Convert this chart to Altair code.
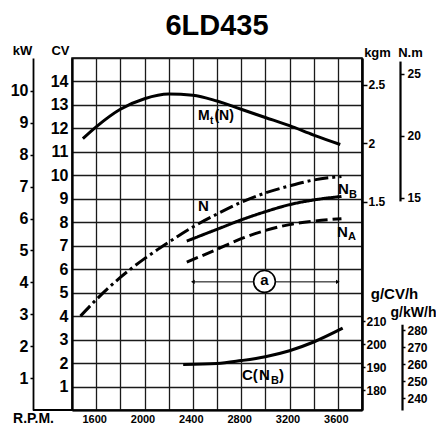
import altair as alt
import pandas as pd

# ---------------- data ----------------
# power curves (CV) vs engine speed (rpm)
rpm_n = [1470, 1600, 1800, 2000, 2200, 2400, 2600, 2800, 3000, 3200, 3400, 3630]
cv_n = [4.0, 4.7, 5.65, 6.45, 7.15, 7.8, 8.35, 8.85, 9.25, 9.55, 9.8, 9.95]
rpm_nb = [2350, 2600, 2800, 3000, 3200, 3400, 3630]
cv_nb = [7.2, 7.7, 8.1, 8.45, 8.75, 8.95, 9.1]
rpm_na = [2350, 2600, 2800, 3000, 3200, 3400, 3630]
cv_na = [6.3, 6.85, 7.3, 7.65, 7.9, 8.05, 8.15]
# torque Mt(N) in kgm
rpm_mt = [1490, 1600, 1800, 2000, 2200, 2400, 2600, 2800, 3000, 3200, 3400, 3620]
kgm_mt = [2.04, 2.14, 2.29, 2.38, 2.42, 2.41, 2.36, 2.29, 2.22, 2.15, 2.07, 1.99]
# specific consumption C(NB) in g/CV/h
rpm_c = [2320, 2600, 2800, 3000, 3200, 3400, 3640]
gcvh_c = [191.2, 191.6, 192.9, 194.6, 197.2, 201.0, 207.0]

# axis tick values
x_grid = list(range(1400, 3801, 200))
cv_ticks = list(range(0, 16))
kw_ticks = list(range(1, 11))
kgm_ticks = [1.5, 2, 2.5]
nm_ticks = [15, 20, 25]
gcv_ticks = [180, 190, 200, 210]
gkw_ticks = [240, 250, 260, 270, 280]

# curve labels (text pieces, subscripts separate)
lab_text = ["M", "t", "(N)", "N", "N", "B", "N", "A", "C(", "N", "B", ")"]
lab_rpm = [2443, 2542, 2579, 2443, 3601, 3692, 3593, 3684, 2807, 2948, 3047, 3113]
lab_cv = [12.35, 12.18, 12.35, 8.49, 9.2, 9.03, 7.39, 7.23, 1.26, 1.26, 1.09, 1.26]
lab_size = [14, 10, 14, 15, 15, 11, 15, 11, 15, 15, 11, 15]

# range annotation "a"
arrow_start = [2400]
arrow_end = [3600]
arrow_cv = [5.46]
circle_rpm = [2993]
circle_cv = [5.48]

# ---------------- layout ----------------
W, H = 290, 352
ROW = H / 15.0
FONT = "Liberation Sans"
CV_DOM = [0, 15]


def ypix(cv):
    return (15 - cv) * ROW


power = pd.DataFrame(
    {"rpm": rpm_n + rpm_nb + rpm_na,
     "cv": cv_n + cv_nb + cv_na,
     "serie": ["N"] * len(rpm_n) + ["NB"] * len(rpm_nb) + ["NA"] * len(rpm_na)}
)
mt = pd.DataFrame({"rpm": rpm_mt, "kgm": kgm_mt})
cons = pd.DataFrame({"rpm": rpm_c, "g": gcvh_c})
labels = pd.DataFrame({"t": lab_text, "rpm": lab_rpm, "cv": lab_cv, "fs": lab_size})
arrow = pd.DataFrame({"rpm": arrow_start, "rpm2": arrow_end, "cv": arrow_cv})
heads = pd.DataFrame({"rpm": arrow_start + arrow_end, "cv": arrow_cv * 2,
                      "shape": ["triangle-left", "triangle-right"]})
circ = pd.DataFrame({"rpm": circle_rpm, "cv": circle_cv, "t": ["a"]})

X = alt.X(
    "rpm:Q",
    scale=alt.Scale(domain=[1400, 3800], nice=False, zero=False),
    axis=alt.Axis(
        values=x_grid,
        labelExpr="(datum.value % 400 == 0 && datum.value >= 1600 && datum.value <= 3600) ? datum.label : ''",
        format="d", ticks=False, labelPadding=3, labelOffset=-2,
        labelFontSize=11, labelFont=FONT, labelFontWeight="bold", labelColor="black",
        grid=True, gridColor="#1a1a1a", gridWidth=1.3, gridOpacity=1,
        domainColor="black", domainWidth=2.2,
        title="R.P.M.", titleFont=FONT, titleFontSize=14, titleFontWeight="bold",
        titleColor="black", titleX=-39, titleY=12, titleAlign="center",
        titleBaseline="alphabetic", titleAngle=0,
    ),
)

# power curves on the CV scale (left axis with grid)
power_layer = alt.Chart(power).mark_line(
    strokeWidth=3, color="black", interpolate="monotone", strokeCap="butt"
).encode(
    x=X,
    y=alt.Y(
        "cv:Q",
        scale=alt.Scale(domain=CV_DOM, nice=False, zero=False),
        axis=alt.Axis(
            orient="left", values=cv_ticks,
            labelExpr="(datum.value >= 1 && datum.value <= 14) ? datum.label : ''",
            ticks=False, labelPadding=4, labelFontSize=16, labelFont=FONT,
            labelFontWeight="bold", labelColor="black",
            grid=True, gridColor="#1a1a1a", gridWidth=1.3, gridOpacity=1,
            domainColor="black", domainWidth=2.2,
            title="CV", titleFont=FONT, titleFontSize=13, titleFontWeight="bold",
            titleColor="black", titleAngle=0, titleX=-12, titleY=-4,
            titleAlign="center", titleBaseline="alphabetic",
        ),
    ),
    strokeDash=alt.StrokeDash(
        "serie:N",
        scale=alt.Scale(domain=["N", "NB", "NA"], range=[[14, 4, 3, 4], [1, 0], [12, 5]]),
        legend=None,
    ),
    detail="serie:N",
)

# kW axis (left, offset)
kw_layer = alt.Chart(pd.DataFrame({"v": kw_ticks, "rpm": [1400] * len(kw_ticks)})).mark_point(
    opacity=0
).encode(
    x=X,
    y=alt.Y(
        "v:Q",
        scale=alt.Scale(domain=[0, 15 / 1.3596], nice=False, zero=False),
        axis=alt.Axis(
            orient="left", offset=39, values=kw_ticks, grid=False,
            tickSize=3, tickColor="black", tickWidth=1.5, labelPadding=2,
            labelFontSize=16, labelFont=FONT, labelFontWeight="bold", labelColor="black",
            domainColor="black", domainWidth=1.8,
            title="kW", titleFont=FONT, titleFontSize=13, titleFontWeight="bold",
            titleColor="black", titleAngle=0, titleX=-11, titleY=-4,
            titleAlign="center", titleBaseline="alphabetic",
        ),
    ),
)

# bottom base line joining the kW axis to the chart
base_line = alt.Chart(pd.DataFrame({"rpm": [1400]})).mark_rule(
    color="black", strokeWidth=2
).encode(x=alt.value(-39), x2=alt.value(0), y=alt.value(H))

# torque Mt(N) on kgm scale (right axis)
mt_layer = alt.Chart(mt).mark_line(
    strokeWidth=3, color="black", interpolate="monotone"
).encode(
    x=X,
    y=alt.Y(
        "kgm:Q",
        scale=alt.Scale(domain=[-0.273, 2.727], nice=False, zero=False),
        axis=alt.Axis(
            orient="right", values=kgm_ticks, labelExpr="datum.value + ''",
            grid=False, tickSize=5, tickColor="black", tickWidth=1.5, labelPadding=1,
            labelFontSize=12, labelFont=FONT, labelFontWeight="bold", labelColor="black",
            domainColor="black", domainWidth=2.5,
            title="kgm", titleFont=FONT, titleFontSize=13, titleFontWeight="bold",
            titleColor="black", titleAngle=0, titleX=15, titleY=-2,
            titleAlign="center", titleBaseline="alphabetic",
        ),
    ),
)

# N.m axis (right, offset, partial range)
nm_layer = alt.Chart(pd.DataFrame({"v": nm_ticks, "rpm": [1400] * len(nm_ticks)})).mark_point(
    opacity=0
).encode(
    x=X,
    y=alt.Y(
        "v:Q",
        scale=alt.Scale(domain=[14.76, 26.03], range=[ypix(8.91), ypix(14.87)],
                        nice=False, zero=False),
        axis=alt.Axis(
            orient="right", offset=38, values=nm_ticks, grid=False,
            tickSize=4, tickColor="black", tickWidth=1.5, labelPadding=3,
            labelFontSize=12, labelFont=FONT, labelFontWeight="bold", labelColor="black",
            domainColor="black", domainWidth=2.2,
            title="N.m", titleFont=FONT, titleFontSize=13, titleFontWeight="bold",
            titleColor="black", titleAngle=0, titleX=10, titleY=-2,
            titleAlign="center", titleBaseline="alphabetic",
        ),
    ),
)

# consumption C(NB) on g/CV/h scale (right axis)
cons_layer = alt.Chart(cons).mark_line(
    strokeWidth=3, color="black", interpolate="monotone"
).encode(
    x=X,
    y=alt.Y(
        "g:Q",
        scale=alt.Scale(domain=[171.4, 324.6], nice=False, zero=False),
        axis=alt.Axis(
            orient="right", values=gcv_ticks, grid=False, domain=False,
            tickSize=3, tickColor="black", tickWidth=1.5, labelPadding=1,
            labelFontSize=12, labelFont=FONT, labelFontWeight="bold", labelColor="black",
            title="g/CV/h", titleFont=FONT, titleFontSize=15, titleFontWeight="bold",
            titleColor="black", titleAngle=0, titleX=32, titleY=ypix(4.75),
            titleAlign="center", titleBaseline="alphabetic",
        ),
    ),
)

# g/kW/h axis (right, offset, partial range)
gkw_layer = alt.Chart(pd.DataFrame({"v": gkw_ticks, "rpm": [1400] * len(gkw_ticks)})).mark_point(
    opacity=0
).encode(
    x=X,
    y=alt.Y(
        "v:Q",
        scale=alt.Scale(domain=[233, 283.5], range=[H, ypix(3.655)], nice=False, zero=False),
        axis=alt.Axis(
            orient="right", offset=40, values=gkw_ticks, grid=False,
            tickSize=3, tickColor="black", tickWidth=1.5, labelPadding=2,
            labelFontSize=12, labelFont=FONT, labelFontWeight="bold", labelColor="black",
            domainColor="black", domainWidth=2.2,
            title="g/kW/h", titleFont=FONT, titleFontSize=14, titleFontWeight="bold",
            titleColor="black", titleAngle=0, titleX=11, titleY=ypix(3.99),
            titleAlign="center", titleBaseline="alphabetic",
        ),
    ),
)

Ycv = alt.Y("cv:Q", scale=alt.Scale(domain=CV_DOM, nice=False, zero=False), axis=None)

label_layer = alt.Chart(labels).mark_text(
    align="left", baseline="alphabetic", font=FONT, fontWeight="bold", color="black"
).encode(x=X, y=Ycv, text="t:N", size=alt.Size("fs:Q", scale=None, legend=None))

arrow_rule = alt.Chart(arrow).mark_rule(color="black", strokeWidth=1).encode(
    x=X, x2="rpm2:Q", y=Ycv
)
arrow_heads = alt.Chart(heads).mark_point(filled=True, color="black", size=18, opacity=1).encode(
    x=X, y=Ycv, shape=alt.Shape("shape:N", scale=None, legend=None)
)
circle_mark = alt.Chart(circ).mark_point(
    shape="circle", size=470, filled=True, fill="white", stroke="black", strokeWidth=1.6, opacity=1
).encode(x=X, y=Ycv)
circle_text = alt.Chart(circ).mark_text(
    font=FONT, fontWeight="bold", fontSize=15, color="black", baseline="middle", dy=-1
).encode(x=X, y=Ycv, text="t:N")

annot = alt.layer(arrow_rule, arrow_heads, circle_mark, circle_text).resolve_scale(y="shared")

chart = alt.layer(
    power_layer, kw_layer, base_line, mt_layer, nm_layer, cons_layer, gkw_layer,
    label_layer, annot,
).resolve_scale(y="independent").properties(
    width=W, height=H,
    title=alt.Title("6LD435", font=FONT, fontSize=29, fontWeight="bold",
                    color="black", anchor="middle", offset=3),
    autosize=alt.AutoSizeParams(type="none"),
    padding={"left": 64, "top": 50, "right": 74, "bottom": 16},
    background="white",
).configure_view(stroke="black", strokeWidth=1.5)

chart.save("out.html", embed_options={"renderer": "svg", "actions": False})
